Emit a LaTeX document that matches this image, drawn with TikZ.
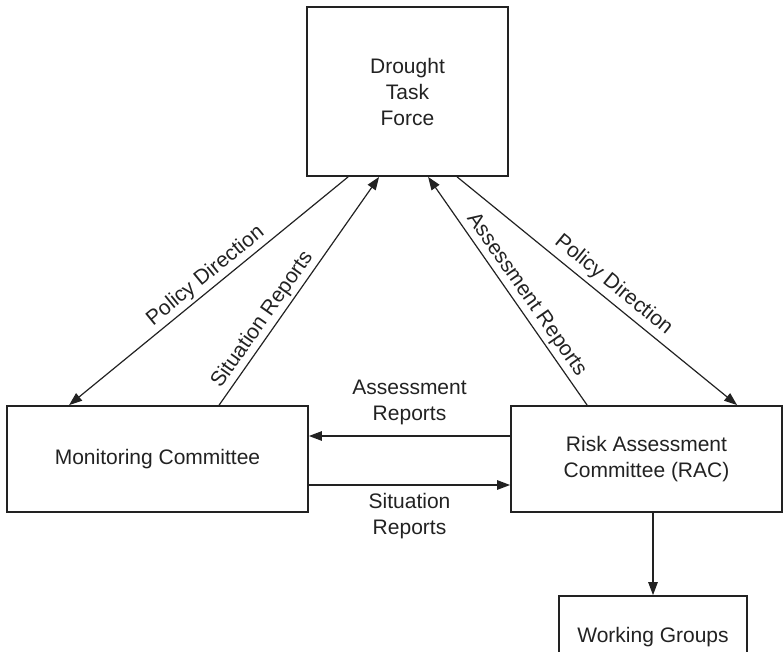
\documentclass[tikz,border=0pt]{standalone}
\usepackage{fontspec}
\setmainfont{Liberation Sans}
\usetikzlibrary{arrows.meta}
\definecolor{ink}{HTML}{222222}
\begin{document}
\begin{tikzpicture}[x=1pt,y=-1pt,
  every node/.style={font=\fontsize{21}{26}\selectfont, text=ink},
  box/.style={draw=ink, line width=1.8pt, inner sep=0pt, align=center},
  conn/.style={draw=ink, line width=1.2pt, -{Triangle[length=13pt,width=9.5pt]}},
  lbl/.style={inner sep=3pt, align=center}]
\useasboundingbox (0,0) rectangle (783,652);
\clip (0,0) rectangle (783,652);
\node[box, minimum width=201pt, minimum height=169pt] (dtf) at (407.5,91.5) {Drought\\Task\\Force};
\node[box, minimum width=301pt, minimum height=106pt] (mc) at (157.5,459) {Monitoring Committee};
\node[box, minimum width=271pt, minimum height=106pt] (rac) at (646.5,459) {Risk Assessment\\Committee (RAC)};
\node[box, minimum width=188pt, minimum height=82pt] (wg) at (653,637) {Working Groups};
\draw[conn] ([xshift=42pt]dtf.south west) -- ([xshift=63pt]mc.north west)
  node[lbl, pos=0.48, sloped, above] (pdl) {Policy Direction};
\draw[conn] ([xshift=213pt]mc.north west) -- ([xshift=73pt]dtf.south west)
  node[lbl, pos=0.34, sloped, above] (srd) {Situation Reports};
\draw[conn] ([xshift=77pt]rac.north west) -- ([xshift=122pt]dtf.south west)
  node[lbl, pos=0.45, sloped, above] (ard) {Assessment Reports};
\draw[conn] ([xshift=151pt]dtf.south west) -- ([xshift=227pt]rac.north west)
  node[lbl, pos=0.525, sloped, above=1.5pt] (pdr) {Policy Direction};
\draw[conn] ([yshift=23pt]rac.west) -- ([yshift=23pt]mc.east)
  node[lbl, pos=0.5, above=8pt] (arh) {Assessment\\Reports};
\draw[conn] ([yshift=-26pt]mc.east) -- ([yshift=-26pt]rac.west)
  node[lbl, pos=0.5, below=5pt] (srh) {Situation\\Reports};
\draw[conn] ([xshift=6.5pt]rac.south) -- (wg.north);
\end{tikzpicture}
\end{document}
